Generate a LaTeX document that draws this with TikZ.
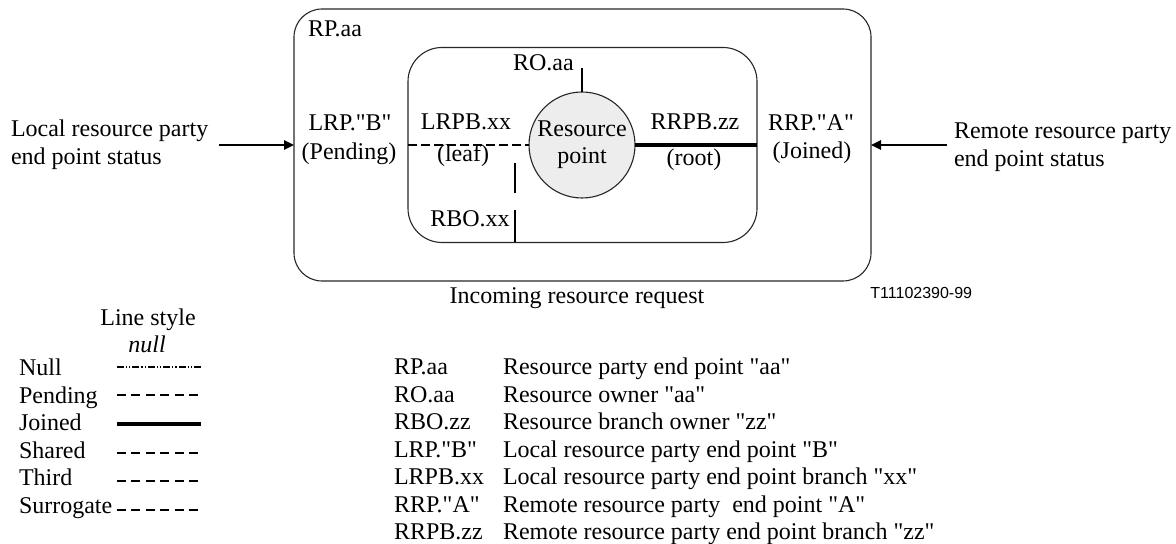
\documentclass[tikz,border=0pt]{standalone}
\usepackage{fontspec}
\setmainfont{Liberation Serif}[Ligatures=TeXOff]
\newfontfamily\figsans{Liberation Sans}
\usetikzlibrary{arrows.meta}

\begin{document}
\begin{tikzpicture}[x=0.5pt,y=-0.5pt,
  lbl/.style={inner sep=0pt, outer sep=0pt, font=\fontsize{12}{14}\selectfont},
  frame/.style={draw=black!85, line width=0.55pt, rounded corners=#1,
                inner sep=0pt, outer sep=0pt},
  thin/.style={line width=0.55pt},
  arr/.style={line width=1pt, -{Triangle[length=5pt,width=4.6pt]}},
  leafline/.style={line width=1pt, dash pattern=on 4.5pt off 2pt},
  rootline/.style={line width=1.7pt},
  nullst/.style={line width=0.8pt, dash pattern=on 3.5pt off 1pt on 0.6pt off 1pt on 0.6pt off 1pt},
  pendst/.style={line width=1pt, dash pattern=on 4.5pt off 2.7pt},
  joinst/.style={line width=2pt}
]
\useasboundingbox (0,0) rectangle (1176,544);

% resource party end point and resource owner
\node[frame=14pt, minimum width=288.5pt, minimum height=136pt] (outer) at (582.5,145) {};
\node[frame=17pt, minimum width=174.5pt, minimum height=97.5pt] (inner) at (582.5,145) {};
\node[circle, draw=black!85, line width=0.55pt, fill=black!7, minimum size=53pt,
      inner sep=0pt, outer sep=0pt, align=center,
      font=\fontsize{12}{13.5}\selectfont] (rpt) at (582,145) {Resource\\point};

% branches
\draw[leafline] (inner.west) -- (rpt.west);
\draw[rootline] (rpt.east) -- (inner.east);

% owner markers
\coordinate (roTop) at (582,68);
\draw[thin] (roTop) -- (rpt.north);
\coordinate (rboA) at (515,163);
\coordinate (rboB) at (515,193);
\coordinate (rboC) at (515,210);
\draw[thin] (rboA) -- (rboB);
\draw[thin] (rboC) -- (rboC |- inner.south);

% labels inside the frames
\node[lbl, anchor=base west] (rpaa) at (308,37) {RP.aa};
\node[lbl, anchor=base west] (roaa) at (513,71) {RO.aa};
\node[lbl, anchor=base] (lrp) at (350,131) {LRP."B"};
\node[lbl, anchor=base] (pend) at (349,160) {(Pending)};
\node[lbl, anchor=base] (lrpb) at (466,130) {LRPB.xx};
\node[lbl, anchor=base] (leaf) at (463,162) {(leaf)};
\node[lbl, anchor=base] (rbo) at (470,227) {RBO.xx};
\node[lbl, anchor=base] (rrpb) at (695,130) {RRPB.zz};
\node[lbl, anchor=base] (root) at (694,166) {(root)};
\node[lbl, anchor=base] (rrp) at (811,131) {RRP."A"};
\node[lbl, anchor=base] (joined) at (812,159) {(Joined)};

% status inputs
\node[lbl, anchor=base west] (loc1) at (11,137) {Local resource party};
\node[lbl, anchor=base west] (loc2) at (11,165) {end point status};
\node[lbl, anchor=base west] (rem1) at (954,139) {Remote resource party};
\node[lbl, anchor=base west] (rem2) at (954,167) {end point status};
\coordinate (locStart) at (219,145);
\coordinate (remStart) at (947,145);
\draw[arr] (locStart) -- (outer.west);
\draw[arr] (remStart) -- (outer.east);

\node[lbl, anchor=base] (incoming) at (577,304) {Incoming resource request};
\node[inner sep=0pt, anchor=base west, font=\figsans\fontsize{8}{9}\selectfont] (tag) at (870,299) {T11102390-99};

% line style key
\node[lbl, anchor=base] (lshead) at (148,326) {Line style};
\node[lbl, anchor=base, font=\fontsize{12}{14}\selectfont\itshape] (lsnull) at (147,353) {null};
\node[lbl, anchor=base west] (kNull) at (19,376) {Null};
\node[lbl, anchor=base west] (kPend) at (19,403.4) {Pending};
\node[lbl, anchor=base west] (kJoin) at (19,430.8) {Joined};
\node[lbl, anchor=base west] (kShar) at (19,458.2) {Shared};
\node[lbl, anchor=base west] (kThrd) at (19,485.6) {Third};
\node[lbl, anchor=base west] (kSurr) at (19,513) {Surrogate};
\draw[nullst] (117,367) -- (201,367);
\draw[pendst] (117,395.5) -- (201,395.5);
\draw[joinst] (117,424) -- (201,424);
\draw[pendst] (117,452.5) -- (201,452.5);
\draw[pendst] (117,481) -- (201,481);
\draw[pendst] (117,509.5) -- (201,509.5);

% abbreviations
\foreach \ab/\desc [count=\i from 0] in {
  RP.aa/{Resource party end point "aa"},
  RO.aa/{Resource owner "aa"},
  RBO.zz/{Resource branch owner "zz"},
  LRP."B"/{Local resource party end point "B"},
  LRPB.xx/{Local resource party end point branch "xx"},
  RRP."A"/{Remote resource party\ \ end point "A"},
  RRPB.zz/{Remote resource party end point branch "zz"}} {
  \node[lbl, anchor=base west] (ab\i) at (394,375+27.4*\i) {\ab};
  \node[lbl, anchor=base west] (de\i) at (503,375+27.4*\i) {\desc};
}
\end{tikzpicture}
\end{document}
